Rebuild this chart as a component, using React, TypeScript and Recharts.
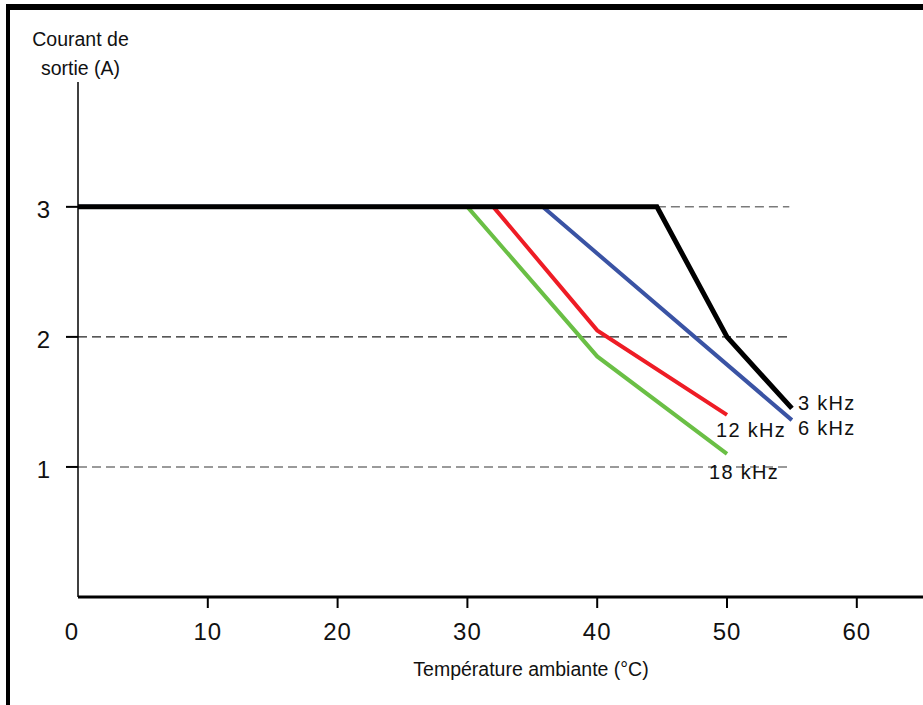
import React from 'react';
import { LineChart, Line, XAxis, YAxis, ReferenceLine } from 'recharts';

// températures (°C) et courants (A)
const temp3k = [0, 44.6, 50, 55];
const amp3k = [3, 3, 2, 1.45];
const temp6k = [0, 35.8, 55];
const amp6k = [3, 3, 1.36];
const temp12k = [32, 40, 50];
const amp12k = [3, 2.05, 1.4];
const temp18k = [30, 40, 50];
const amp18k = [3, 1.85, 1.1];

const xTicks = [0, 10, 20, 30, 40, 50, 60];
const yTicks = [1, 2, 3];
const gridEnd = 54.8;

const FONT = 'Liberation Sans, Arial, sans-serif';

const zip = (t: number[], a: number[]) => t.map((v, i) => ({ t: v, a: a[i] }));

const XTick = (props: any) => {
    const { x, y, payload } = props;
    const v = payload.value;
    return (
        <g>
            {v !== 0 && <line x1={x} x2={x} y1={y} y2={y + 11} stroke="#000" strokeWidth={2} />}
            <text
                x={x + (v === 0 ? -6 : 0)}
                y={y + 43}
                textAnchor="middle"
                fontFamily={FONT}
                fontSize={24}
                letterSpacing={1}
                fill="#111"
            >
                {v}
            </text>
        </g>
    );
};

const YTick = (props: any) => {
    const { x, y, payload } = props;
    return (
        <g>
            <line x1={x - 12} x2={x} y1={y} y2={y} stroke="#000" strokeWidth={2} />
            <text x={x - 28} y={y + 11.5} textAnchor="end" fontFamily={FONT} fontSize={24} fill="#111">
                {payload.value}
            </text>
        </g>
    );
};

const endLabel = (text: string, count: number, dx: number, dy: number) => (props: any) => {
    const { x, y, index } = props;
    if (index !== count - 1) return null;
    return (
        <text
            key={text}
            x={x + dx}
            y={y + dy}
            fontFamily={FONT}
            fontSize={20}
            letterSpacing={1.3}
            fill="#111"
        >
            {text}
        </text>
    );
};

const App: React.FC = () => (
    <div style={{ position: 'absolute', left: 0, top: 0, width: 923, height: 705, background: '#fff' }}>
        <div style={{ position: 'absolute', left: 6, top: 4, width: 4, height: 701, background: '#000' }} />
        <div style={{ position: 'absolute', left: 6, top: 4, width: 917, height: 6, background: '#000' }} />
        <div style={{ position: 'absolute', left: 0, top: 0 }}>
            <LineChart
                width={923}
                height={705}
                margin={{ top: 82, right: 0, left: 77, bottom: 107 }}
            >
                <XAxis
                    type="number"
                    dataKey="t"
                    domain={[0, 65.1]}
                    ticks={xTicks}
                    height={1}
                    tickSize={0}
                    tickMargin={0}
                    tickLine={false}
                    tick={<XTick />}
                    axisLine={{ stroke: '#000', strokeWidth: 3 }}
                    allowDataOverflow
                />
                <YAxis
                    type="number"
                    dataKey="a"
                    domain={[0, 3.96]}
                    ticks={yTicks}
                    width={1}
                    tickSize={0}
                    tickMargin={0}
                    tickLine={false}
                    tick={<YTick />}
                    axisLine={{ stroke: '#000', strokeWidth: 1.5 }}
                    allowDataOverflow
                />
                <ReferenceLine segment={[{ x: 44.6, y: 3 }, { x: gridEnd, y: 3 }]} stroke="#7a7a7a" strokeWidth={1.5} strokeDasharray="9 5" />
                <ReferenceLine segment={[{ x: 0, y: 2 }, { x: gridEnd, y: 2 }]} stroke="#222" strokeWidth={1.3} strokeDasharray="9 5" />
                <ReferenceLine segment={[{ x: 0, y: 1 }, { x: gridEnd, y: 1 }]} stroke="#7a7a7a" strokeWidth={1.5} strokeDasharray="9 5" />
                <Line
                    data={zip(temp18k, amp18k)}
                    dataKey="a"
                    stroke="#6abf45"
                    strokeWidth={4}
                    dot={false}
                    isAnimationActive={false}
                    label={endLabel('18 kHz', temp18k.length, -18, 25)}
                />
                <Line
                    data={zip(temp12k, amp12k)}
                    dataKey="a"
                    stroke="#ee1c25"
                    strokeWidth={4}
                    dot={false}
                    isAnimationActive={false}
                    label={endLabel('12 kHz', temp12k.length, -11, 22)}
                />
                <Line
                    data={zip(temp6k, amp6k)}
                    dataKey="a"
                    stroke="#3a53a4"
                    strokeWidth={4}
                    dot={false}
                    isAnimationActive={false}
                    label={endLabel('6 kHz', temp6k.length, 6, 15)}
                />
                <Line
                    data={zip(temp3k, amp3k)}
                    dataKey="a"
                    stroke="#000"
                    strokeWidth={5}
                    dot={false}
                    isAnimationActive={false}
                    label={endLabel('3 kHz', temp3k.length, 6, 2)}
                />
            </LineChart>
        </div>
        <div style={{ position: 'absolute', left: 0, top: 0, width: 923, height: 705, pointerEvents: 'none' }}>
            <svg width={923} height={705} style={{ position: 'absolute', left: 0, top: 0 }}>
                <g fontFamily={FONT} fontSize={19.5} fill="#111" textAnchor="middle">
                    <text x={80.5} y={46}>Courant de</text>
                    <text x={80.5} y={75}>sortie (A)</text>
                    <text x={531} y={676}>Température ambiante (°C)</text>
                </g>
            </svg>
        </div>
    </div>
);

export default App;
